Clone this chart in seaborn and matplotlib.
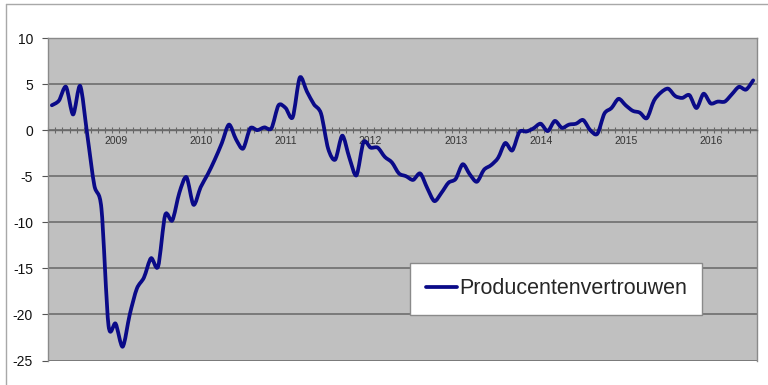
import numpy as np
import pandas as pd
import matplotlib
matplotlib.use("Agg")
import matplotlib.pyplot as plt
from matplotlib.lines import Line2D
from matplotlib.path import Path
from matplotlib.patches import PathPatch
from matplotlib.ticker import FixedLocator, NullFormatter
import seaborn as sns

# Monthly producer confidence, April 2008 - July 2016
producentenvertrouwen = [
    2.7, 3.2, 4.7, 1.7, 4.8, -0.5, -6.0, -8.5, -21.2, -21.0,
    -23.5, -20.0, -17.2, -16.0, -13.9, -14.8, -9.2, -9.8, -6.8, -5.1,
    -8.1, -6.2, -4.8, -3.2, -1.4, 0.6, -1.0, -2.0, 0.2, 0.0,
    0.3, 0.2, 2.7, 2.4, 1.4, 5.7, 4.2, 2.8, 1.8, -2.0,
    -3.2, -0.6, -3.0, -4.9, -1.3, -1.9, -1.9, -2.9, -3.5, -4.7,
    -5.0, -5.4, -4.7, -6.3, -7.7, -6.8, -5.7, -5.3, -3.7, -4.8,
    -5.6, -4.3, -3.8, -3.0, -1.4, -2.2, -0.2, -0.15, 0.2, 0.7,
    -0.1, 1.0, 0.25, 0.6, 0.7, 1.1, 0.0, -0.4, 1.8, 2.4,
    3.4, 2.7, 2.1, 1.9, 1.3, 3.2, 4.1, 4.5, 3.7, 3.5,
    3.8, 2.4, 3.95, 2.9, 3.1, 3.1, 3.9, 4.7, 4.4, 5.4,
]
jaar_labels = ["2009", "2010", "2011", "2012", "2013", "2014", "2015", "2016"]
jaar_posities = [9, 21, 33, 45, 57, 69, 81, 93]   # January of each year
y_ticks = [-25, -20, -15, -10, -5, 0, 5, 10]

LIJNKLEUR = "#0a0a88"

df = pd.DataFrame({"maand": np.arange(len(producentenvertrouwen)),
                   "waarde": producentenvertrouwen})

sns.set_style("white")
plt.rcParams["font.family"] = ["Liberation Sans", "DejaVu Sans"]

fig = plt.figure(figsize=(7.68, 3.85), dpi=100)
ax = fig.add_axes([48.3 / 768, 1 - 360.5 / 385, 708.4 / 768, 322.5 / 385])
ax.set_facecolor("#c0c0c0")

sns.lineplot(data=df, x="maand", y="waarde", ax=ax, color=LIJNKLEUR,
             linewidth=2.7, label="Producentenvertrouwen",
             solid_joinstyle="round", solid_capstyle="round", zorder=5)

ax.set_xlim(-0.5, len(producentenvertrouwen) - 0.5)
ax.set_ylim(-25, 10)
ax.set_xlabel("")
ax.set_ylabel("")

# horizontal gridlines
ax.set_yticks(y_ticks)
ax.yaxis.grid(True, color="#6e6e6e", linewidth=1.2)
ax.xaxis.grid(False)
ax.set_axisbelow(True)
ax.set_yticklabels([str(v) for v in y_ticks], fontsize=10, color="#111111")
ax.tick_params(axis="y", direction="out", length=4, width=0.8,
               color="#555555", pad=7, left=True)

# category axis along the zero line
for side in ["top", "right", "left"]:
    ax.spines[side].set_color("#8a8a8a")
    ax.spines[side].set_linewidth(1.0)
ax.spines["bottom"].set_position(("data", 0))
ax.spines["bottom"].set_color("#6a6a6a")
ax.spines["bottom"].set_linewidth(1.0)
ax.set_xticks(jaar_posities)
ax.set_xticklabels(jaar_labels, fontsize=7.5, color="#333333")
ax.xaxis.set_minor_locator(FixedLocator(np.arange(-0.5, len(producentenvertrouwen), 1.0)))
ax.xaxis.set_minor_formatter(NullFormatter())
ax.tick_params(axis="x", which="major", length=0, pad=4, bottom=True)
ax.tick_params(axis="x", which="minor", direction="inout", length=4,
               width=0.8, color="#666666", bottom=True)

leg = ax.legend(loc="center", bbox_to_anchor=(0.717, 0.223), fontsize=15.5,
                frameon=True, fancybox=False, framealpha=1, edgecolor="#8a8a8a",
                facecolor="white", handlelength=1.45, handletextpad=0.08,
                borderpad=0.72, borderaxespad=0)
leg.get_frame().set_linewidth(1.0)
leg.set_zorder(10)

# smoothed rendering of the seaborn line (Bezier curves through the points)
lijn = ax.get_lines()[0]
pts = np.column_stack(lijn.get_data()).astype(float)
pad = np.vstack([pts[:1], pts, pts[-1:]])
verts = [pts[0]]
codes = [Path.MOVETO]
spanning = 1.0 / 7.0
for i in range(len(pts) - 1):
    p0, p1, p2, p3 = pad[i], pad[i + 1], pad[i + 2], pad[i + 3]
    verts += [p1 + (p2 - p0) * spanning, p2 - (p3 - p1) * spanning, p2]
    codes += [Path.CURVE4] * 3
ax.add_patch(PathPatch(Path(np.array(verts), codes), fill=False,
                       edgecolor=LIJNKLEUR, linewidth=2.7, joinstyle="round",
                       capstyle="round", zorder=5))
lijn.set_visible(False)

# outer chart frame
fig.add_artist(Line2D([6 / 768, 1.0], [1 - 4 / 385, 1 - 4 / 385],
                      transform=fig.transFigure, color="#a8a8a8", linewidth=1.0))
fig.add_artist(Line2D([6 / 768, 6 / 768], [0.0, 1 - 4 / 385],
                      transform=fig.transFigure, color="#a8a8a8", linewidth=1.0))

fig.savefig("out.png", dpi=100, facecolor="white")
